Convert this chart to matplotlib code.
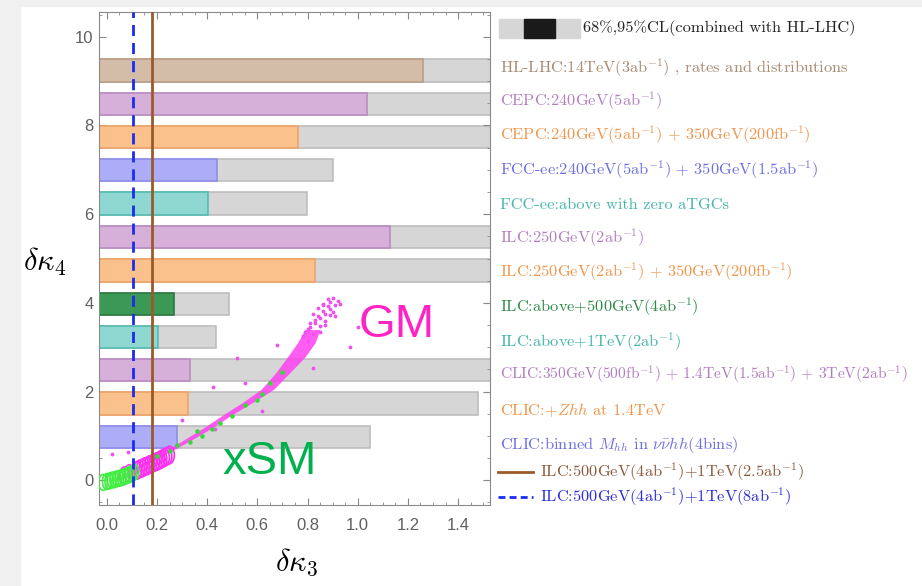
import matplotlib
matplotlib.use('Agg')
import matplotlib.pyplot as plt
from matplotlib.patches import Rectangle
from matplotlib.lines import Line2D
from matplotlib.path import Path
from matplotlib.transforms import Affine2D
from matplotlib.ticker import MultipleLocator, FormatStrFormatter

plt.rcParams['mathtext.fontset'] = 'cm'

# bars, listed bottom to top
labels = [
    r'CLIC:binned $M_{hh}$ in $\nu\bar{\nu}hh$(4bins)',
    r'CLIC:+$Zhh$ at 1.4TeV',
    r'CLIC:350GeV(500fb$^{-1}$)$\,+\,$1.4TeV(1.5ab$^{-1}$)$\,+\,$3TeV(2ab$^{-1}$)',
    r'ILC:above+1TeV(2ab$^{-1}$)',
    r'ILC:above+500GeV(4ab$^{-1}$)',
    r'ILC:250GeV(2ab$^{-1}$)$\,+\,$350GeV(200fb$^{-1}$)',
    r'ILC:250GeV(2ab$^{-1}$)',
    r'FCC-ee:above with zero aTGCs',
    r'FCC-ee:240GeV(5ab$^{-1}$)$\,+\,$350GeV(1.5ab$^{-1}$)',
    r'CEPC:240GeV(5ab$^{-1}$)$\,+\,$350GeV(200fb$^{-1}$)',
    r'CEPC:240GeV(5ab$^{-1}$)',
    r'HL-LHC:14TeV(3ab$^{-1}$) , rates and distributions',
]
bar_pos = [0.97, 1.73, 2.48, 3.23, 3.98, 4.73, 5.49, 6.24, 6.99, 7.74, 8.49, 9.24]
cl68 = [0.281, 0.323, 0.331, 0.203, 0.268, 0.830, 1.129, 0.402, 0.441, 0.761, 1.038, 1.259]
cl95 = [1.049, 1.478, 1.6, 0.435, 0.487, 1.6, 1.6, 0.799, 0.900, 1.6, 1.6, 1.6]

blue = ('#adadf7', '#8e8eec', '#6e6ee4')
orange = ('#fbc18d', '#f0a468', '#f0954c')
purple = ('#d6b0d8', '#bb8cc2', '#b27ec0')
teal = ('#8fd8d1', '#55bdb2', '#45b6a9')
green = ('#3b9955', '#2c7a42', '#2f8a48')
brown = ('#d3bca8', '#bb9d84', '#a78b72')
bar_colors = [blue, orange, purple, teal, green, orange, purple, teal, blue, orange, purple, brown]

# GM band (edges in x at given y) and loose points
gm_y = [0.15, 0.38, 0.58, 0.85, 1.18, 1.48, 1.75, 2.05, 2.40, 2.78, 3.10, 3.40]
gm_xlo = [0.07, 0.14, 0.20, 0.29, 0.385, 0.465, 0.54, 0.615, 0.67, 0.72, 0.76, 0.79]
gm_xhi = [0.09, 0.165, 0.23, 0.32, 0.42, 0.50, 0.58, 0.665, 0.725, 0.79, 0.83, 0.85]
gm_dots_x = [0.97, 1.00, 0.82, 0.52, 0.425, 0.02, 0.086, 0.30, 0.55, 0.68, 0.62, 0.43,
             0.79, 0.81, 0.83, 0.85, 0.87, 0.89, 0.91, 0.92, 0.90, 0.88, 0.86, 0.84,
             0.80, 0.82, 0.85, 0.87, 0.89, 0.84, 0.86, 0.88, 0.90, 0.83, 0.81, 0.78,
             0.80, 0.93, 0.91, 0.87, 0.85, 0.82, 0.89, 0.86]
gm_dots_y = [3.0, 3.46, 2.52, 2.75, 2.1, 0.6, 0.63, 1.35, 2.2, 3.05, 1.55, 1.15,
             3.35, 3.45, 3.55, 3.65, 3.75, 3.85, 3.95, 4.05, 4.12, 4.08, 3.98, 3.88,
             3.40, 3.30, 3.48, 3.60, 3.72, 3.70, 3.82, 3.92, 3.80, 3.62, 3.55, 3.25,
             3.15, 3.98, 3.70, 3.50, 3.35, 3.75, 4.02, 3.95]
gm_circ_x = [0.12, 0.13, 0.14, 0.15, 0.16, 0.17, 0.18, 0.19, 0.20, 0.21, 0.22, 0.23, 0.24, 0.25, 0.07, 0.09]
gm_circ_y = [0.22, 0.25, 0.27, 0.30, 0.32, 0.35, 0.37, 0.40, 0.42, 0.45, 0.48, 0.51, 0.54, 0.57, 0.10, 0.15]

# xSM
xsm_circ_x = [-0.015, 0.0, 0.01, 0.02, 0.03, 0.04, 0.05, 0.06, 0.07, 0.08, 0.09, 0.10, 0.11]
xsm_circ_y = [-0.05, -0.03, -0.02, 0.0, 0.01, 0.03, 0.04, 0.06, 0.08, 0.10, 0.12, 0.15, 0.18]
xsm_dots_x = [0.20, 0.25, 0.33, 0.38, 0.42, 0.45, 0.50, 0.55, 0.62, 0.65, 0.60, 0.28, 0.36, 0.70]
xsm_dots_y = [0.55, 0.65, 0.85, 1.00, 1.15, 1.30, 1.45, 1.70, 1.95, 2.20, 1.80, 0.80, 1.10, 2.45]

ilc_25 = 0.18
ilc_8 = 0.105

fig = plt.figure(figsize=(9.22, 5.86), dpi=100)
# screenshot margins
fig.patches.append(Rectangle((0, 0), 20 / 922, 1, transform=fig.transFigure, color='#f0f0f0', zorder=0))
fig.patches.append(Rectangle((0, 1 - 6 / 586), 1, 6 / 586, transform=fig.transFigure, color='#f0f0f0', zorder=0))

ax = fig.add_axes([99 / 922, 81 / 586, 391 / 922, 493 / 586])
ax.set_xlim(-0.031, 1.527)
ax.set_ylim(-0.56, 10.56)

for y, c68, c95, col in zip(bar_pos, cl68, cl95, bar_colors):
    ax.barh(y, c95 + 0.1, left=-0.1, height=0.5, color='#d6d6d6', edgecolor='#bdbdbd', linewidth=1.2, zorder=1)
    ax.barh(y, c68 + 0.1, left=-0.1, height=0.5, color=col[0], edgecolor=col[1], linewidth=1.2, zorder=2)

ellipse = Path.unit_circle().transformed(Affine2D().scale(0.55, 1.0))

ax.fill_betweenx(gm_y, gm_xlo, gm_xhi, color='#ff40f0', alpha=0.85, linewidth=0, zorder=3)
ax.scatter(gm_dots_x, gm_dots_y, s=3, color='#f050f0', zorder=3)
ax.scatter(gm_circ_x, gm_circ_y, s=160, marker=ellipse, facecolors='none', edgecolors='#ff30f0', linewidths=1.2, zorder=3)
ax.scatter(xsm_circ_x, xsm_circ_y, s=130, marker=ellipse, facecolors='none', edgecolors='#40ee40', linewidths=1.2, zorder=3)
ax.scatter(xsm_dots_x, xsm_dots_y, s=5, color='#30dd30', zorder=4)

ax.axvline(ilc_8, color='#1a2cf0', lw=2, ls=(0, (4, 2.5)), zorder=5)
ax.axvline(ilc_25, color='#9a5a2a', lw=2, zorder=5)

ax.text(1.005, 3.5, 'GM', color='#ff22c4', fontsize=34, family='Liberation Sans', va='center', zorder=6)
ax.text(0.46, 0.41, 'xSM', color='#00b04c', fontsize=34, family='Liberation Sans', va='center', zorder=6)

ax.xaxis.set_major_locator(MultipleLocator(0.2))
ax.xaxis.set_minor_locator(MultipleLocator(0.05))
ax.xaxis.set_major_formatter(FormatStrFormatter('%.1f'))
ax.yaxis.set_major_locator(MultipleLocator(2))
ax.yaxis.set_minor_locator(MultipleLocator(0.5))
ax.tick_params(which='both', direction='in', top=True, right=True, color='#888888')
ax.tick_params(which='major', length=5, labelsize=12, labelcolor='#606060')
ax.tick_params(axis='x', which='major', pad=9)
ax.tick_params(axis='y', which='major', pad=4)
ax.tick_params(which='minor', length=2.5)
for lab in ax.get_xticklabels() + ax.get_yticklabels():
    lab.set_family('Liberation Sans')
for sp in ax.spines.values():
    sp.set_color('#8a8a8a')

fig.text(45 / 922, 1 - 262 / 586, r'$\delta\kappa_4$', fontsize=22, ha='center', va='center')
fig.text(296 / 922, 1 - 562 / 586, r'$\delta\kappa_3$', fontsize=22, ha='center', va='center')

# legend drawn by hand
def px(x, y):
    return x / 922, 1 - y / 586

lx = 500
fs = 11.8
fig.patches.append(Rectangle(px(499, 38), 81 / 922, 19 / 586, transform=fig.transFigure, color='#d6d6d6'))
fig.patches.append(Rectangle(px(524, 38), 31 / 922, 19 / 586, transform=fig.transFigure, color='#1a1a1a'))
fig.text(*px(583, 28), '68%,95%CL(combined with HL-LHC)', family='cmr10', fontsize=fs, va='center', color='#222222')

leg_y = [445, 410, 375, 342, 307, 272, 238, 205, 170, 135, 101, 68]
for lbl, yy, col in zip(labels, leg_y, bar_colors):
    fig.text(*px(lx, yy), lbl, family='cmr10', fontsize=fs if 'CLIC:350' not in lbl else 11.2, va='center', color=col[2])

fig.add_artist(Line2D([498 / 922, 533 / 922], [1 - 472 / 586] * 2, color='#9a5a2a', lw=2))
fig.text(*px(540, 472), r'ILC:500GeV(4ab$^{-1}$)+1TeV(2.5ab$^{-1}$)', family='cmr10', fontsize=fs, va='center', color='#8a5a3a')
fig.add_artist(Line2D([498 / 922, 533 / 922], [1 - 497 / 586] * 2, color='#1a2cf0', lw=2, ls=(0, (2.5, 1.5))))
fig.text(*px(540, 497), r'ILC:500GeV(4ab$^{-1}$)+1TeV(8ab$^{-1}$)', family='cmr10', fontsize=fs, va='center', color='#2a2ae0')

fig.savefig('out.png', dpi=100)
